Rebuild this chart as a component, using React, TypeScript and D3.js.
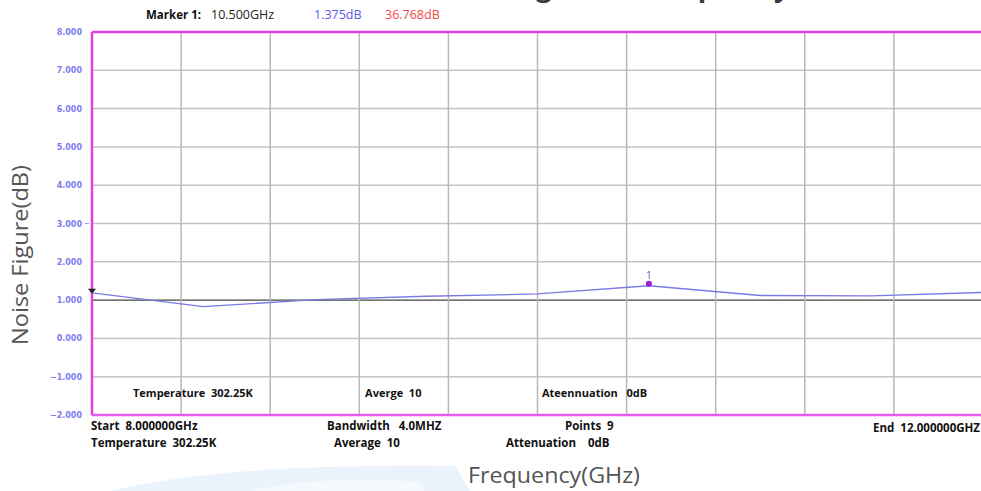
import React from 'react'
import * as d3 from 'd3'

// sweep 8 - 12 GHz, 9 points
const freqs = [8.0, 8.5, 9.0, 9.5, 10.0, 10.5, 11.0, 11.5, 12.0]
const noiseFig = [1.19, 0.83, 1.01, 1.1, 1.16, 1.375, 1.12, 1.11, 1.2]
const yTicks = [8, 7, 6, 5, 4, 3, 2, 1, 0, -1, -2]
const xGrid = [8.4, 8.8, 9.2, 9.6, 10.0, 10.4, 10.8, 11.2, 11.6]
const markerFreq = 10.5
const markerLine = ['Marker 1:', '10.500GHz', '1.375dB', '36.768dB']
const insideLabels = [
  { text: 'Temperature  302.25K', f: 8.184 },
  { text: 'Averge  10', f: 9.226 },
  { text: 'Ateennuation   0dB', f: 10.02 },
]
const footRow1 = [
  { text: 'Start  8.000000GHz', x: 91 },
  { text: 'Bandwidth   4.0MHZ', x: 327 },
  { text: 'Points  9', x: 565 },
]
const footRow2 = [
  { text: 'Temperature  302.25K', x: 91 },
  { text: 'Average  10', x: 334 },
  { text: 'Attenuation    0dB', x: 506 },
]

export default function App() {
  const W = 981
  const H = 491
  const left = 92
  const right = 983
  const top = 32
  const bottom = 415

  const x = d3.scaleLinear().domain([8, 12]).range([left, right])
  const y = d3.scaleLinear().domain([-2, 8]).range([bottom, top])

  const line = d3
    .line<number>()
    .x((_, i) => x(freqs[i]))
    .y((d) => y(d))

  const mi = freqs.indexOf(markerFreq)
  const mx = x(markerFreq)
  const my = y(noiseFig[mi])

  const sans = '"Open Sans", "Noto Sans", sans-serif'

  return (
    <svg
      width={W}
      height={H}
      style={{ position: 'absolute', left: 0, top: 0, background: '#fff' }}
      fontFamily={sans}
    >
      {/* faint watermark */}
      <path d="M110,491 C190,472 300,464 455,466 L470,491 Z" fill="#eaf3fb" />
      <path d="M250,491 C300,479 370,477 420,482 L425,491 Z" fill="#f5f9fd" />

      {/* cut-off title, only descenders show */}
      <text x={790} y={-4} textAnchor="end" fontSize={28} fontWeight="bold" fill="#3a3a3a">
        Noise Figure vs Frequency
      </text>

      {/* marker readout */}
      <text y={19} fontSize={11.5}>
        <tspan x={146} fontWeight="bold" fill="#111">{markerLine[0]}</tspan>
        <tspan x={211} fontSize={12.5} fill="#222">{markerLine[1]}</tspan>
        <tspan x={314} fontSize={12.5} fill="#5a5ae6">{markerLine[2]}</tspan>
        <tspan x={385} fontSize={12.5} fill="#f04848">{markerLine[3]}</tspan>
      </text>

      {/* horizontal grid */}
      {yTicks.slice(1, -1).map((t) => (
        <line
          key={'h' + t}
          x1={left}
          x2={W}
          y1={y(t)}
          y2={y(t)}
          stroke={t === 1 ? '#444' : '#c4c4c4'}
          strokeWidth={t === 1 ? 1.2 : 1.5}
        />
      ))}
      {/* vertical grid */}
      {xGrid.map((f) => (
        <line key={'v' + f} x1={x(f)} x2={x(f)} y1={top} y2={bottom} stroke="#b8b8b8" strokeWidth={1.5} />
      ))}

      {/* frame */}
      <line x1={left} x2={W} y1={top} y2={top} stroke="#e040e0" strokeWidth={2.5} />
      <line x1={left} x2={W} y1={bottom} y2={bottom} stroke="#e85ce8" strokeWidth={2.5} />
      <line x1={left} x2={left} y1={top} y2={bottom} stroke="#e040e0" strokeWidth={2.5} />

      {/* y tick labels */}
      {yTicks.map((t) => (
        <text
          key={'y' + t}
          x={82}
          y={y(t) + 3}
          textAnchor="end"
          fontSize={8}
          fontWeight="bold"
          fontFamily='"DejaVu Sans", sans-serif'
          fill="#7c7cf0"
        >
          {d3.format('.3f')(t)}
        </text>
      ))}
      <line x1={85} x2={89} y1={y(3)} y2={y(3)} stroke="#9a9af0" strokeWidth={1} />

      {/* trace */}
      <path d={line(noiseFig) || ''} fill="none" stroke="#7a7ae6" strokeWidth={1.3} />

      {/* start arrow */}
      <path
        d={`M${left - 4},${y(noiseFig[0]) - 4} L${left + 4},${y(noiseFig[0]) - 4} L${left},${y(noiseFig[0]) + 1} Z`}
        fill="#222"
      />

      {/* marker 1 */}
      <circle cx={mx} cy={my - 2} r={3} fill="#9a1ad8" />
      <text x={mx} y={my - 7} textAnchor="middle" fontSize={10} fill="#5a5ae6">
        1
      </text>

      {/* labels inside plot */}
      {insideLabels.map((d) => (
        <text key={d.text} x={x(d.f)} y={397} fontSize={11} fontWeight="bold" fill="#111" style={{ whiteSpace: 'pre' }}>
          {d.text}
        </text>
      ))}

      {/* footer */}
      {footRow1.map((d) => (
        <text key={d.text} x={d.x} y={430} fontSize={11.5} fontWeight="bold" fill="#111" style={{ whiteSpace: 'pre' }}>
          {d.text}
        </text>
      ))}
      {footRow2.map((d) => (
        <text key={d.text} x={d.x} y={447} fontSize={11.5} fontWeight="bold" fill="#111" style={{ whiteSpace: 'pre' }}>
          {d.text}
        </text>
      ))}
      <text x={980} y={432} textAnchor="end" fontSize={11.5} fontWeight="bold" fill="#111" style={{ whiteSpace: 'pre' }}>
        End  12.000000GHZ
      </text>

      {/* axis titles */}
      <text
        x={554}
        y={483}
        textAnchor="middle"
        fontSize={21}
        textLength={172}
        lengthAdjust="spacingAndGlyphs"
        fill="#555"
      >
        Frequency(GHz)
      </text>
      <text
        transform="translate(28,255) rotate(-90)"
        textAnchor="middle"
        fontSize={21}
        textLength={180}
        lengthAdjust="spacingAndGlyphs"
        fill="#555"
      >
        Noise Figure(dB)
      </text>
    </svg>
  )
}
